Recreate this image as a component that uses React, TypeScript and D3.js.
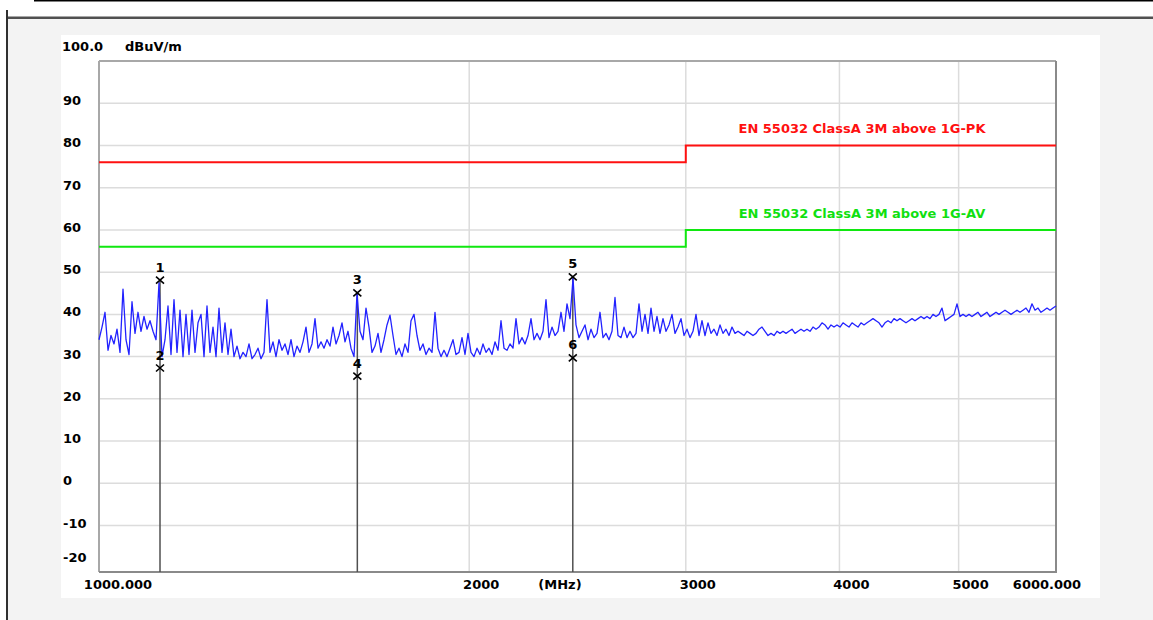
import * as d3 from 'd3';
import React from 'react';

// sweep: 1000 - 6000 MHz, points spaced evenly on the log axis
const sweepStart = 1000;
const sweepStop = 6000;

const traceDb = [
  34, 37, 40.5, 31.5, 35, 33, 36.5, 31, 46, 34, 30.5, 43, 35.5, 40.5, 36, 39.5, 36.5, 38.5, 36, 34,
  47.5, 30, 34, 42, 30.5, 43.5, 31, 41, 30, 40, 30.5, 41, 31, 38, 40, 30, 42, 31, 37, 30,
  41.5, 31, 38, 30.5, 36.5, 30, 32.5, 29.5, 31, 30, 33, 29.5, 30.5, 32, 29.5, 31, 43.5, 31, 33.5, 30,
  34, 31.5, 33, 30.5, 34, 30, 32.5, 31, 33.5, 37, 31, 33, 39, 32, 33.5, 32, 34, 32.5, 37, 33,
  35, 38, 33.5, 36, 32, 30, 45, 36, 34, 41.5, 37, 31, 32.5, 35.5, 31, 34, 37.5, 39.8, 35, 30.5,
  32, 30, 33, 31, 38.5, 40, 35, 31.5, 33, 30.5, 32, 31, 40.5, 32, 30, 31.5, 30, 32, 34, 30.5,
  31, 34.5, 30.5, 35.5, 31, 30, 32, 30.5, 33, 31, 32, 30.5, 33.5, 31.5, 38.5, 32, 31.5, 33, 32, 39,
  33, 34.5, 33, 35, 39, 34, 35.5, 34, 36, 43.5, 34.5, 37, 35, 36, 40.5, 36, 42.5, 39, 48.5, 37.5,
  34.5, 36, 37.5, 34, 36.5, 34.5, 35.5, 40.5, 34.5, 35.5, 34, 36, 44, 35, 34.5, 37, 34.5, 36, 34.5, 35.5,
  42.5, 36, 40, 35.5, 41.5, 36, 39.5, 35.5, 39, 36, 37.5, 40, 35.5, 37, 39, 35, 36.5, 34.5, 36, 40,
  35, 38.5, 35, 38, 35.5, 36.5, 35, 37.5, 35.5, 36.5, 35, 37, 35.5, 36, 35.5, 35, 36, 35.5, 35, 35.5,
  36.5, 37, 36, 35, 35.5, 35, 36, 35.5, 36, 35.5, 36, 36.5, 35.5, 36, 36.5, 36, 36.5, 36, 37, 36.5,
  37, 38, 37.5, 36.5, 37.5, 37, 37.5, 37, 38, 37.5, 37, 38, 37.5, 37, 38, 37.5, 38, 38.5, 39, 38.5,
  38, 37, 38, 38.5, 38, 39, 38.5, 39, 38.5, 38, 38.5, 39, 38.5, 39, 39.5, 39, 39.5, 39, 40, 39.5,
  40, 41.5, 38.5, 39, 39.5, 40, 42.5, 39.5, 40, 39.5, 40, 39.5, 40, 40.5, 39.5, 40, 40.5, 39.5, 40, 40.5,
  40, 40.5, 41, 40.5, 40, 40.5, 41, 40.5, 41, 41.5, 40.5, 42.5, 41, 41.5, 40.5, 41, 41.5, 41, 41.5, 42,
];

const pkLimit = [
  { f: 1000, v: 76 },
  { f: 3000, v: 76 },
  { f: 3000, v: 80 },
  { f: 6000, v: 80 },
];
const avLimit = [
  { f: 1000, v: 56 },
  { f: 3000, v: 56 },
  { f: 3000, v: 60 },
  { f: 6000, v: 60 },
];

const markers = [
  { n: '1', f: 1121, v: 48.1 },
  { n: '2', f: 1121, v: 27.3 },
  { n: '3', f: 1622, v: 45.1 },
  { n: '4', f: 1622, v: 25.4 },
  { n: '5', f: 2428, v: 48.9 },
  { n: '6', f: 2428, v: 29.7 },
];

const yTicks = [90, 80, 70, 60, 50, 40, 30, 20, 10, 0, -10, -20];
const xGrid = [2000, 3000, 4000, 5000];
const xTicks = [1000, 2000, 3000, 4000, 5000, 6000];
const xTickLabels = ['1000.000', '2000', '3000', '4000', '5000', '6000.000'];

const font = 'DejaVu Sans, sans-serif';

const App = () => {
  const x = d3.scaleLog().domain([sweepStart, sweepStop]).range([99, 1056]);
  const y = d3.scaleLinear().domain([-21, 100]).range([572, 61]);

  const n = traceDb.length;
  const freqs = traceDb.map((_, i) => sweepStart * Math.pow(sweepStop / sweepStart, i / (n - 1)));

  const traceLine = d3.line<number>()
    .x((d, i) => x(freqs[i]))
    .y((d) => y(d));

  const limitLine = d3.line<{ f: number; v: number }>()
    .x((d) => x(d.f))
    .y((d) => y(d.v));

  const labelX = (v: number, i: number) => {
    if (i === 0) return x(v) + 19;
    if (i === xTicks.length - 1) return x(v) - 9;
    return x(v) + 12;
  };

  // vertical marker lines: from the upper marker of each pair down to the axis
  const markerPairs = d3.groups(markers, (m) => m.f).map(([f, ms]) => ({ f, top: d3.max(ms, (m) => m.v) as number }));

  return (
    <svg width={1153} height={620} style={{ position: 'absolute', left: 0, top: 0 }} fontFamily={font}>
      <rect x={0} y={0} width={1153} height={620} fill="#ffffff" />
      <rect x={34} y={0} width={1119} height={1.5} fill="#000000" />
      <rect x={8} y={18} width={1145} height={602} fill="#f3f3f3" />
      <rect x={8} y={16.5} width={1145} height={2.5} fill="#505050" />
      <rect x={6} y={10} width={2} height={610} fill="#303030" />
      <rect x={61} y={35} width={1039} height={563} fill="#ffffff" />

      {/* grid */}
      {yTicks.filter((t) => t > -20).map((t) => (
        <line key={'gy' + t} x1={99} x2={1056} y1={y(t)} y2={y(t)} stroke="#dcdcdc" strokeWidth={1.5} />
      ))}
      {xGrid.map((t) => (
        <line key={'gx' + t} x1={x(t)} x2={x(t)} y1={61} y2={572} stroke="#dcdcdc" strokeWidth={1.5} />
      ))}

      {/* frame */}
      <line x1={99} x2={99} y1={61} y2={572} stroke="#a8a8a8" strokeWidth={2} />
      <line x1={99} x2={1056} y1={61} y2={61} stroke="#a8a8a8" strokeWidth={2} />
      <line x1={1056} x2={1056} y1={61} y2={573} stroke="#8a8a8a" strokeWidth={2} />
      <line x1={99} x2={1056} y1={572} y2={572} stroke="#8a8a8a" strokeWidth={2} />

      {/* limits */}
      <path d={limitLine(pkLimit) || ''} fill="none" stroke="#ff1010" strokeWidth={2} />
      <path d={limitLine(avLimit) || ''} fill="none" stroke="#10e810" strokeWidth={2} />
      <text x={862} y={128} textAnchor="middle" dominantBaseline="central" fontSize={13} fontWeight="bold" fill="#ff1010">
        EN 55032 ClassA 3M above 1G-PK
      </text>
      <text x={862} y={213} textAnchor="middle" dominantBaseline="central" fontSize={13} fontWeight="bold" fill="#10e010">
        EN 55032 ClassA 3M above 1G-AV
      </text>

      {/* marker lines */}
      {markerPairs.map((m) => (
        <line key={'ml' + m.f} x1={x(m.f)} x2={x(m.f)} y1={y(m.top)} y2={572} stroke="#505050" strokeWidth={1.5} />
      ))}

      {/* trace */}
      <path d={traceLine(traceDb) || ''} fill="none" stroke="#2222ff" strokeWidth={1.3} strokeLinejoin="round" />

      {/* markers */}
      {markers.map((m) => (
        <g key={'mk' + m.n} transform={`translate(${x(m.f)},${y(m.v)})`}>
          <path d="M-4,-3.5L4,3.5M-4,3.5L4,-3.5" stroke="#000000" strokeWidth={1.6} fill="none" />
          <text x={0} y={-13} textAnchor="middle" dominantBaseline="central" fontSize={13} fontWeight="bold" fill="#000000">
            {m.n}
          </text>
        </g>
      ))}

      {/* y axis labels */}
      <text x={62} y={46} dominantBaseline="central" fontSize={13} fontWeight="bold" fill="#000000">100.0</text>
      <text x={125} y={46} dominantBaseline="central" fontSize={13} fontWeight="bold" fill="#000000">dBuV/m</text>
      {yTicks.map((t) => (
        <text key={'yl' + t} x={63} y={Math.min(y(t) - 2.5, 557)} dominantBaseline="central" fontSize={13} fontWeight="bold" fill="#000000">
          {t}
        </text>
      ))}

      {/* x axis labels */}
      {xTicks.map((t, i) => (
        <text key={'xl' + t} x={labelX(t, i)} y={584} textAnchor="middle" dominantBaseline="central" fontSize={13} fontWeight="bold" fill="#000000">
          {xTickLabels[i]}
        </text>
      ))}
      <text x={560} y={584} textAnchor="middle" dominantBaseline="central" fontSize={13} fontWeight="bold" fill="#000000">(MHz)</text>
    </svg>
  );
};

export default App;
